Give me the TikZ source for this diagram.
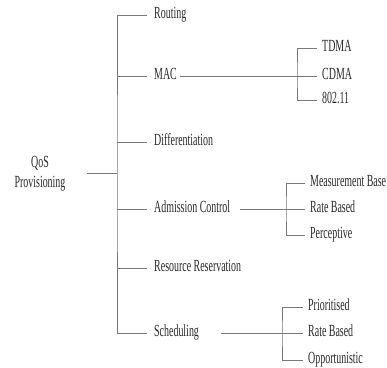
\documentclass[tikz,border=0pt]{standalone}
\usepackage{fontspec}
\setmainfont{Liberation Serif}[FakeStretch=0.585]
\definecolor{branch}{RGB}{120,120,120}
\definecolor{label}{RGB}{40,40,40}
\usetikzlibrary{
  calc     % shifted line ends
}
\tikzset{
  x=1pt, y=-1pt,
  every node/.style = {
    font=\fontsize{17}{20}\selectfont,
    text=label,
    inner ysep=0pt
  },
  topic/.style = {anchor=west, inner xsep=7pt, text height=0.66em, text depth=0pt},
  leaf/.style = {anchor=west, inner xsep=5pt, text height=0.66em, text depth=0pt},
  root/.style = {align=center, inner sep=0pt},
  branch/.style = {draw=branch, line width=0.8pt}
}

\begin{document}
\begin{tikzpicture}
\useasboundingbox (0,0) rectangle (387,367);

% root and trunk
\node[root] (qos) at (40,174) {QoS\\Provisioning};
\coordinate (trunk) at (117,173);

% first level
\node[topic] (routing) at (147,15)  {Routing};
\node[topic] (mac)     at (147,76)  {MAC};
\node[topic] (diff)    at (147,142) {Differentiation};
\node[topic] (adm)     at (147,209) {Admission Control};
\node[topic] (resv)    at (147,268) {Resource Reservation};
\node[topic] (sched)   at (147,333) {Scheduling};

% second level
\coordinate (macfork)   at (297,76);
\node[leaf] (tdma)  at (317,48)  {TDMA};
\node[leaf] (cdma)  at (317,76)  {CDMA};
\node[leaf] (wifi)  at (317,100) {802.11};

\coordinate (admfork)   at (286,209);
\node[leaf] (meas)  at (305,183) {Measurement Base};
\node[leaf] (arate) at (305,209) {Rate Based};
\node[leaf] (perc)  at (305,235) {Perceptive};

\coordinate (schedfork) at (282,333);
\node[leaf] (prio)  at (303,307) {Prioritised};
\node[leaf] (srate) at (303,333) {Rate Based};
\node[leaf] (opp)   at (303,360) {Opportunistic};

% connectors
\draw[branch] ([xshift=21pt]qos.east |- trunk) -- (trunk);
\draw[branch] (routing.west) -| (trunk) |- (sched.west);
\foreach \n in {mac,diff,adm,resv}
  \draw[branch] (\n.west) -- (\n.west -| trunk);

\draw[branch] ([xshift=-4pt]mac.east) -- (cdma.west);
\draw[branch] (tdma.west) -| (macfork) |- (wifi.west);

\draw[branch] ([xshift=3pt]adm.east) -- (arate.west);
\draw[branch] (meas.west) -| (admfork) |- (perc.west);

\draw[branch] ([xshift=15pt]sched.east) -- (srate.west);
\draw[branch] (prio.west) -| (schedfork) |- (opp.west);
\end{tikzpicture}
\end{document}
